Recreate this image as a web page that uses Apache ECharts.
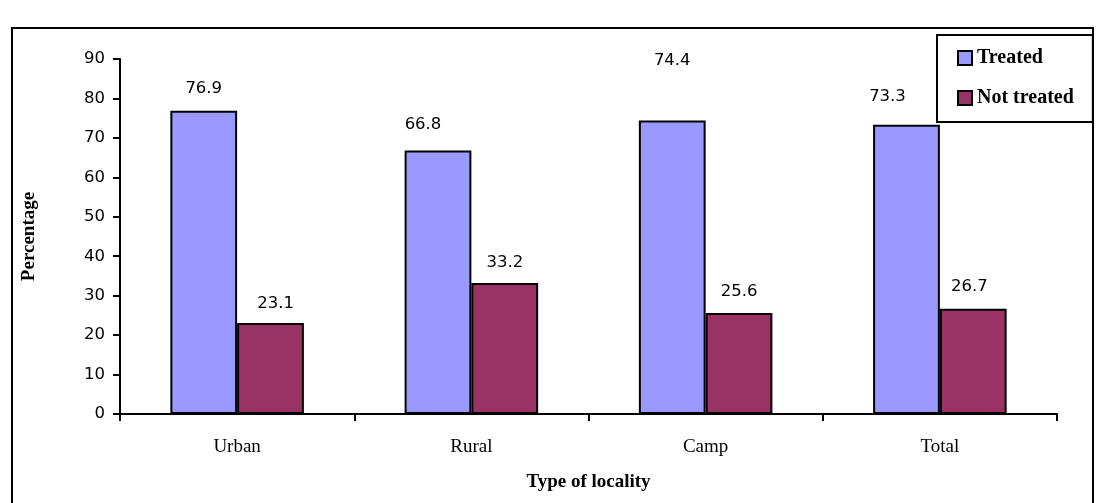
<!DOCTYPE html>
<html>
<head>
<meta charset="utf-8">
<title>Treatment by type of locality</title>
<script src="https://cdn.jsdelivr.net/npm/echarts@6/dist/echarts.min.js"></script>
<style>
  html, body { margin: 0; padding: 0; background: #ffffff; }
  #chart { width: 1098px; height: 503px; }
</style>
</head>
<body>
<div id="chart"></div>
<script>
// Categories and percentages
const categories = ['Urban', 'Rural', 'Camp', 'Total'];
const treated = [76.9, 66.8, 74.4, 73.3];
const notTreated = [23.1, 33.2, 25.6, 26.7];
const yTicks = { min: 0, max: 90, step: 10 };

// Hand-placed value-label nudges (pixels), one per bar
const treatedLabelShift = [[0, -13], [-15, -17], [0, -51], [-19, -20]];
const notTreatedLabelShift = [[5, -11], [0, -12], [0, -13], [-4, -13]];

const serifBold = { fontFamily: '"Liberation Serif", "Times New Roman", serif', fontWeight: 'bold', color: '#000' };

function withLabels(values, shifts) {
  return values.map((v, i) => ({ value: v, label: { offset: shifts[i] } }));
}

const valueLabel = {
  show: true,
  position: 'top',
  distance: 0,
  fontFamily: '"DejaVu Sans", sans-serif',
  fontSize: 16.5,
  color: '#000'
};

const chart = echarts.init(document.getElementById('chart'), null, { renderer: 'canvas' });
chart.setOption({
  animation: false,
  backgroundColor: '#ffffff',
  graphic: [{
    type: 'rect',
    shape: { x: 12, y: 28, width: 1081, height: 500 },
    style: { fill: 'none', stroke: '#000', lineWidth: 2 },
    z: -1
  }],
  legend: {
    orient: 'vertical',
    left: 937,
    top: 35,
    padding: [13, 19, 14, 20],
    itemGap: 20,
    itemWidth: 14,
    itemHeight: 14,
    borderColor: '#000',
    borderWidth: 2,
    backgroundColor: '#fff',
    textStyle: Object.assign({ fontSize: 20 }, serifBold),
    data: [
      { name: 'Treated', icon: 'rect' },
      { name: 'Not treated', icon: 'rect' }
    ]
  },
  grid: { left: 120, right: 41, top: 59, bottom: 89, containLabel: false },
  xAxis: {
    type: 'category',
    data: categories,
    name: 'Type of locality',
    nameLocation: 'middle',
    nameGap: 59,
    nameTextStyle: Object.assign({ fontSize: 19 }, serifBold),
    axisLine: { lineStyle: { color: '#000', width: 2 } },
    axisTick: { show: true, length: 7, lineStyle: { color: '#000', width: 2 } },
    axisLabel: {
      margin: 24,
      fontFamily: '"Liberation Serif", "Times New Roman", serif',
      fontSize: 19,
      color: '#000'
    },
    splitLine: { show: false }
  },
  yAxis: {
    type: 'value',
    min: yTicks.min,
    max: yTicks.max,
    interval: yTicks.step,
    name: 'Percentage',
    nameLocation: 'middle',
    nameRotate: 90,
    nameGap: 81,
    nameTextStyle: Object.assign({ fontSize: 19 }, serifBold),
    axisLine: { show: true, lineStyle: { color: '#000', width: 2 } },
    axisTick: { show: true, length: 7, lineStyle: { color: '#000', width: 2 } },
    axisLabel: {
      margin: 15,
      fontFamily: '"DejaVu Sans", sans-serif',
      fontSize: 16.5,
      color: '#000'
    },
    splitLine: { show: false }
  },
  series: [
    {
      name: 'Treated',
      type: 'bar',
      barGap: '0%',
      barCategoryGap: '43%',
      data: withLabels(treated, treatedLabelShift),
      itemStyle: { color: '#9999ff', borderColor: '#000', borderWidth: 2 },
      label: valueLabel
    },
    {
      name: 'Not treated',
      type: 'bar',
      barGap: '0%',
      barCategoryGap: '43%',
      data: withLabels(notTreated, notTreatedLabelShift),
      itemStyle: { color: '#993366', borderColor: '#000', borderWidth: 2 },
      label: valueLabel
    }
  ]
});
</script>
</body>
</html>
